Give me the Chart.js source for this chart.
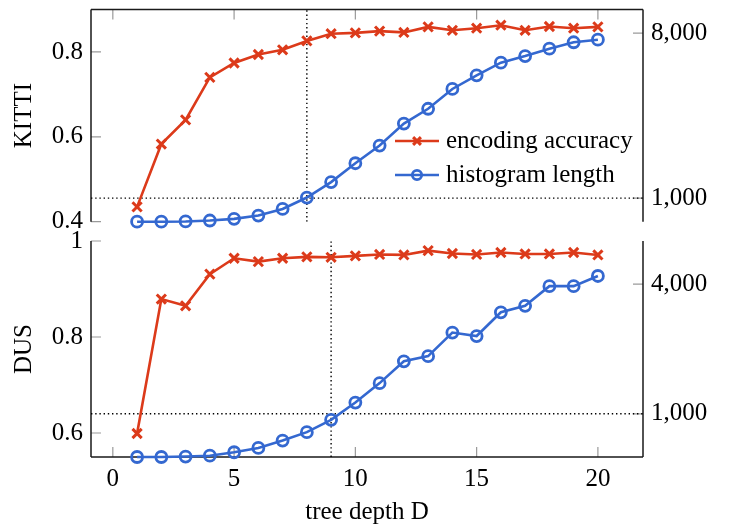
<!DOCTYPE html>
<html><head><meta charset="utf-8">
<script src="https://cdn.jsdelivr.net/npm/chart.js@4/dist/chart.umd.min.js"></script>
<style>
html,body{margin:0;padding:0;background:#fff;}
#wrap{position:relative;width:738px;height:527px;}
canvas{position:absolute;left:0;top:0;}
</style>
</head><body>
<div id="wrap"><canvas id="cTop" width="738" height="527"></canvas><canvas id="cBot" width="738" height="527"></canvas></div>
<script>
// ---- data ----
const depth = [1,2,3,4,5,6,7,8,9,10,11,12,13,14,15,16,17,18,19,20];
const kittiAcc = [0.435,0.583,0.640,0.740,0.774,0.794,0.805,0.826,0.843,0.845,0.849,0.846,0.859,0.851,0.856,0.863,0.851,0.860,0.856,0.859];
const kittiHist = [0,0,10,50,120,260,540,1025,1680,2480,3230,4160,4790,5630,6210,6745,7025,7340,7610,7720];
const dusAcc = [0.599,0.879,0.865,0.931,0.964,0.957,0.964,0.967,0.966,0.969,0.972,0.971,0.980,0.974,0.972,0.976,0.973,0.973,0.976,0.971];
const dusHist = [0,0,10,30,110,210,380,575,860,1260,1710,2215,2335,2880,2800,3350,3500,3955,3955,4190];
const xTicks = [0,5,10,15,20];
const kittiAccTicks = [0.4,0.6,0.8];
const kittiHistTicks = [1000,8000];
const dusAccTicks = [0.6,0.8,1];
const dusHistTicks = [1000,4000];
const refDepth = [8,9];       // KITTI, DUS
const refHist = [1000,1000];  // KITTI, DUS
const seriesNames = ['encoding accuracy','histogram length'];
const panelNames = ['KITTI','DUS'];
const xLabel = 'tree depth D';

// ---- style ----
const RED = '#dc3a1a', BLUE = '#3468d0';
const FONT = '"Liberation Serif","Times New Roman",serif';
Chart.defaults.font.family = FONT;
Chart.defaults.font.size = 25;
Chart.defaults.color = '#000';
const X_MIN = -0.9, X_MAX = 21.86;

function fmt(v){ return v >= 1000 ? v.toLocaleString('en-US') : String(v); }
function pts(xs, ys){ return xs.map((x,i)=>({x:x, y:ys[i]})); }

function accDs(data){
  return {label:seriesNames[0], data:data, yAxisID:'yL', borderColor:RED, backgroundColor:RED,
    borderWidth:2.6, pointStyle:'crossRot', pointRadius:6.5, pointBorderWidth:3, pointBorderColor:RED,
    tension:0, clip:false, order:1};
}
function histDs(data){
  return {label:seriesNames[1], data:data, yAxisID:'yR', borderColor:BLUE, backgroundColor:'rgba(0,0,0,0)',
    borderWidth:2.6, pointStyle:'circle', pointRadius:5.5, pointBorderWidth:2.8, pointBorderColor:BLUE,
    tension:0, clip:false, order:0};
}
function refDs(data, axis){
  return {label:'ref', data:data, yAxisID:axis, borderColor:'#000', borderWidth:1.4, borderDash:[1.4,2.8],
    pointRadius:0, tension:0, order:10};
}

function framePlugin(sides, xTickSide){
  return {id:'frame', beforeDatasetsDraw(chart){
    const ctx = chart.ctx, a = chart.chartArea, s = chart.scales;
    ctx.save();
    ctx.strokeStyle = '#9a9a9a'; ctx.lineWidth = 1.2;
    const TL = 10;
    ctx.beginPath();
    s.yL.ticks.forEach(t=>{ const y = s.yL.getPixelForValue(t.value); ctx.moveTo(a.left, y); ctx.lineTo(a.left+TL, y); });
    s.yR.ticks.forEach(t=>{ const y = s.yR.getPixelForValue(t.value); ctx.moveTo(a.right, y); ctx.lineTo(a.right-TL, y); });
    xTicks.forEach(v=>{ const x = s.x.getPixelForValue(v);
      if (xTickSide==='top'){ ctx.moveTo(x, a.top); ctx.lineTo(x, a.top+TL); }
      else { ctx.moveTo(x, a.bottom); ctx.lineTo(x, a.bottom-TL); } });
    ctx.stroke();
    ctx.strokeStyle = '#1a1a1a'; ctx.lineWidth = 1.5;
    ctx.beginPath();
    if (sides.includes('left')){ ctx.moveTo(a.left, a.top); ctx.lineTo(a.left, a.bottom); }
    if (sides.includes('right')){ ctx.moveTo(a.right, a.top); ctx.lineTo(a.right, a.bottom); }
    if (sides.includes('top')){ ctx.moveTo(a.left, a.top); ctx.lineTo(a.right, a.top); }
    if (sides.includes('bottom')){ ctx.moveTo(a.left, a.bottom); ctx.lineTo(a.right, a.bottom); }
    ctx.stroke();
    ctx.restore();
  }};
}

const legendPlugin = {id:'customLegend', afterDraw(chart){
  const ctx = chart.ctx;
  const ds = chart.data.datasets;
  const items = [ds[0], ds[1]];
  const x0 = 395, x1 = 439, xm = 417, tx = 446;
  const ys = [141, 175];
  ctx.save();
  items.forEach((d,i)=>{
    const y = ys[i];
    ctx.strokeStyle = d.borderColor; ctx.lineWidth = d.borderWidth;
    ctx.beginPath(); ctx.moveTo(x0,y); ctx.lineTo(x1,y); ctx.stroke();
    ctx.lineWidth = d.pointBorderWidth;
    ctx.strokeStyle = d.pointBorderColor;
    ctx.fillStyle = d.backgroundColor;
    Chart.helpers.drawPoint(ctx, {pointStyle:d.pointStyle, radius:d.pointRadius*0.85, borderWidth:d.pointBorderWidth}, xm, y);
    ctx.fillStyle = '#000'; ctx.font = '25px ' + FONT; ctx.textBaseline = 'middle'; ctx.textAlign = 'left';
    ctx.fillText(d.label, tx, y);
  });
  ctx.restore();
}};

function yScale(pos, min, max, ticks, width, title){
  return {type:'linear', position:pos, min:min, max:max,
    afterBuildTicks(sc){ sc.ticks = ticks.map(v=>({value:v})); },
    afterFit(sc){ sc.width = width; sc.paddingTop = 0; sc.paddingBottom = 0; },
    grid:{display:false, drawTicks:false}, border:{display:false},
    ticks:{padding:8, callback:(v)=>fmt(v), font:{size:25}},
    title: title ? {display:true, text:title, font:{size:25}, padding:{top:9,bottom:0}} : {display:false}
  };
}

// ---- top chart (KITTI) ----
new Chart(document.getElementById('cTop'), {
  type:'line',
  data:{datasets:[
    accDs(pts(depth, kittiAcc)),
    histDs(pts(depth, kittiHist)),
    refDs([{x:X_MIN,y:refHist[0]},{x:X_MAX,y:refHist[0]}], 'yR'),
    refDs([{x:refDepth[0],y:0.4},{x:refDepth[0],y:0.9}], 'yL')
  ]},
  options:{
    responsive:false, animation:false, devicePixelRatio:1,
    layout:{padding:{top:5.7, bottom:527-221.7, left:0, right:0}},
    plugins:{legend:{display:false}, tooltip:{enabled:false}},
    scales:{
      x:{type:'linear', min:X_MIN, max:X_MAX, display:false},
      yL: yScale('left', 0.4, 0.9, kittiAccTicks, 91, panelNames[0]),
      yR: yScale('right', 0, 9000, kittiHistTicks, 95, null)
    }
  },
  plugins:[framePlugin(['left','right','top'], 'top'), legendPlugin]
});

// ---- bottom chart (DUS) ----
new Chart(document.getElementById('cBot'), {
  type:'line',
  data:{datasets:[
    accDs(pts(depth, dusAcc)),
    histDs(pts(depth, dusHist)),
    refDs([{x:X_MIN,y:refHist[1]},{x:X_MAX,y:refHist[1]}], 'yR'),
    refDs([{x:refDepth[1],y:0.55},{x:refDepth[1],y:1.0}], 'yL')
  ]},
  options:{
    responsive:false, animation:false, devicePixelRatio:1,
    layout:{padding:{top:241, bottom:0, left:0, right:0}},
    plugins:{legend:{display:false}, tooltip:{enabled:false}},
    scales:{
      x:{type:'linear', position:'bottom', min:X_MIN, max:X_MAX,
        afterBuildTicks(sc){ sc.ticks = xTicks.map(v=>({value:v})); },
        afterFit(sc){ sc.height = 70; sc.paddingLeft = 0; sc.paddingRight = 0; },
        grid:{display:false, drawTicks:false}, border:{display:false},
        ticks:{padding:7, maxRotation:0, font:{size:25}, callback:(v)=>String(v)},
        title:{display:true, text:xLabel, font:{size:25}, padding:{top:0,bottom:0}}
      },
      yL: yScale('left', 0.55, 1.0, dusAccTicks, 91, panelNames[1]),
      yR: yScale('right', 0, 5000, dusHistTicks, 95, null)
    }
  },
  plugins:[framePlugin(['left','right','bottom'], 'bottom')]
});
</script>
</body></html>
